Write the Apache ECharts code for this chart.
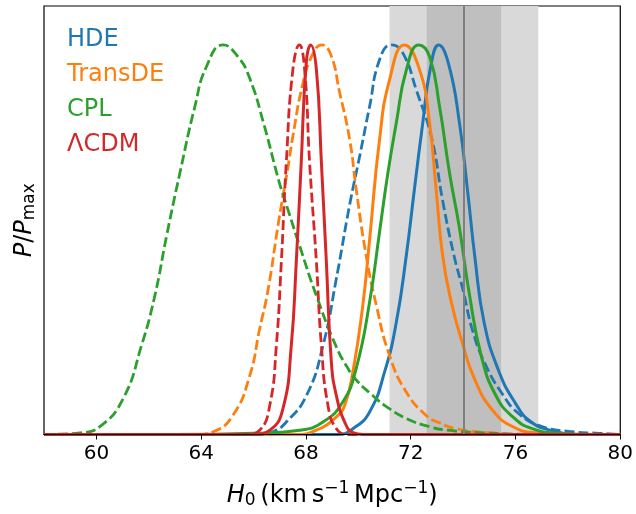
<!DOCTYPE html>
<html>
<head>
<meta charset="utf-8">
<script src="https://cdn.jsdelivr.net/npm/echarts@6/dist/echarts.min.js"></script>
<style>
  html, body { margin: 0; padding: 0; background: #fff; }
  #chart { width: 636px; height: 514px; }
</style>
</head>
<body>
<div id="chart"></div>
<script>
// H0 values (x) and normalised posterior P/Pmax (y)
const hdeSolid = [[58,0],[69.2,0],[69.79,0.015],[70.43,0.058],[71.0,0.16],[71.45,0.288],[71.83,0.459],[72.14,0.629],[72.46,0.80],[72.75,0.94],[73.07,1.0],[73.45,0.95],[73.86,0.80],[74.18,0.62],[74.45,0.455],[74.8,0.288],[75.35,0.165],[76.0,0.08],[76.6,0.032],[77.4,0.01],[78.5,0],[80,0]];
const hdeDashed = [[58,0],[66.2,0],[66.74,0.007],[67.25,0.032],[68.02,0.10],[68.65,0.228],[69.16,0.40],[69.67,0.59],[70.05,0.714],[70.43,0.842],[70.81,0.962],[71.26,1.0],[71.70,0.979],[72.21,0.885],[72.8,0.76],[73.22,0.6],[73.65,0.46],[74.0,0.37],[74.37,0.265],[74.85,0.18],[75.45,0.109],[76.15,0.052],[77.04,0.02],[78.05,0.008],[79.2,0.003],[80,0]];
const transSolid = [[58,0],[67.6,0],[68.40,0.011],[69.16,0.045],[69.48,0.075],[69.79,0.16],[70.17,0.331],[70.43,0.5],[70.81,0.757],[71.19,0.91],[71.76,1.0],[72.34,0.936],[72.72,0.80],[72.97,0.629],[73.22,0.459],[73.55,0.34],[73.95,0.24],[74.45,0.14],[75.13,0.062],[75.9,0.02],[76.8,0.004],[78,0],[80,0]];
const transDashed = [[58,0],[63.8,0],[64.45,0.007],[65.22,0.05],[65.85,0.15],[66.23,0.27],[66.55,0.37],[66.97,0.552],[67.3,0.68],[67.5,0.765],[67.88,0.90],[68.25,0.975],[68.6,1.0],[68.95,0.975],[69.28,0.88],[69.67,0.757],[69.92,0.629],[70.30,0.459],[70.69,0.331],[71.19,0.203],[71.83,0.109],[72.59,0.049],[73.1,0.03],[73.73,0.015],[74.9,0.005],[76.5,0],[80,0]];
const cplSolid = [[58,0],[63,0],[66,0.003],[67.76,0.011],[68.65,0.032],[69.41,0.084],[69.92,0.17],[70.43,0.34],[70.81,0.52],[71.13,0.672],[71.45,0.80],[71.83,0.935],[72.31,1.0],[72.72,0.97],[73.10,0.842],[73.48,0.672],[73.86,0.53],[74.24,0.36],[74.7,0.2],[75.25,0.1],[75.9,0.045],[76.64,0.015],[77.7,0.003],[79,0],[80,0]];
const cplDashed = [[58,0],[58.6,0.001],[59.37,0.004],[60.13,0.02],[61.02,0.092],[61.72,0.228],[62.23,0.356],[62.68,0.51],[63.19,0.672],[63.76,0.842],[64.2,0.944],[64.84,1.0],[65.4,0.97],[65.85,0.915],[66.4,0.795],[66.97,0.65],[67.3,0.58],[67.76,0.484],[68.40,0.356],[69.16,0.225],[69.6,0.17],[69.92,0.14],[70.55,0.10],[71.0,0.075],[71.83,0.041],[72.72,0.02],[73.4,0.011],[74.6,0.005],[76,0.001],[77,0],[80,0]];
const lcdmSolid = [[58,0],[66,0],[66.62,0.011],[67.12,0.066],[67.44,0.228],[67.63,0.442],[67.82,0.698],[68.01,0.953],[68.18,1.0],[68.40,0.936],[68.59,0.698],[68.78,0.442],[68.97,0.186],[69.16,0.10],[69.48,0.032],[69.79,0.005],[70.2,0],[80,0]];
const lcdmDashed = [[58,0],[65.7,0],[66.23,0.011],[66.62,0.075],[66.87,0.228],[67.06,0.442],[67.25,0.698],[67.5,0.936],[67.75,1.0],[67.95,0.936],[68.14,0.698],[68.40,0.442],[68.59,0.228],[68.84,0.075],[69.16,0.015],[69.6,0],[80,0]];

// local H0 measurement: central value and 1/2 sigma bands
const h0Local = 74.03;
const band1 = [72.61, 75.45];
const band2 = [71.19, 76.87];

const xTicks = [60, 64, 68, 72, 76, 80];
const models = ['HDE', 'TransDE', 'CPL', 'ΛCDM'];
const colors = ['#1f77b4', '#ff7f0e', '#2ca02c', '#d62728'];

const font = 'DejaVu Sans';
var myChart = echarts.init(document.getElementById('chart'));

function curve(name, data, color, dashed) {
    return {
        name: name,
        type: 'line',
        data: data,
        smooth: 0.5,
        symbol: 'none',
        lineStyle: { color: color, width: dashed ? 2.8 : 3, type: dashed ? [10, 4] : 'solid' },
        itemStyle: { color: color },
        z: 3
    };
}

var option = {
    animation: false,
    backgroundColor: '#fff',
    grid: { left: 44, right: 15, top: 6, bottom: 78, show: true, borderColor: '#000', borderWidth: 1.2 },
    legend: {
        data: models.map((m, i) => ({ name: m, icon: 'none', textStyle: { color: colors[i] } })),
        orient: 'vertical',
        left: 57,
        top: 23,
        itemWidth: 0,
        itemHeight: 24,
        itemGap: 11,
        selectedMode: false,
        textStyle: { fontFamily: font, fontSize: 24 }
    },
    xAxis: {
        type: 'value',
        min: 58,
        max: 80,
        z: 5,
        axisLine: { lineStyle: { color: '#000', width: 1.2 } },
        axisTick: { customValues: xTicks, length: 5, lineStyle: { color: '#000', width: 1 } },
        axisLabel: { customValues: xTicks, color: '#000', fontFamily: font, fontSize: 20, margin: 9 },
        splitLine: { show: false },
        name: '{i|H}{sub|0}{n|\u2009(km\u2009s}{sup|\u22121}{n|\u2009Mpc}{sup|\u22121}{n|)}',
        nameLocation: 'middle',
        nameGap: 46,
        nameTextStyle: {
            color: '#000', fontFamily: font, fontSize: 24,
            rich: {
                i: { fontStyle: 'italic', fontSize: 24, fontFamily: font, color: '#000' },
                n: { fontSize: 24, fontFamily: font, color: '#000' },
                sub: { fontSize: 17, fontFamily: font, color: '#000', padding: [10, 0, 0, 0] },
                sup: { fontSize: 17, fontFamily: font, color: '#000', padding: [0, 0, 13, 0] }
            }
        }
    },
    yAxis: {
        type: 'value',
        min: 0,
        max: 1.1,
        axisLine: { show: false },
        axisTick: { show: false },
        axisLabel: { show: false },
        splitLine: { show: false },
        name: '{i|P}{n|/}{i|P}{sub|max}',
        nameLocation: 'middle',
        nameRotate: 90,
        nameGap: 6,
        nameTextStyle: {
            color: '#000', fontFamily: font, fontSize: 24,
            rich: {
                i: { fontStyle: 'italic', fontSize: 24, fontFamily: font, color: '#000' },
                n: { fontSize: 24, fontFamily: font, color: '#000' },
                sub: { fontSize: 17, fontFamily: font, color: '#000', padding: [10, 0, 0, 0] }
            }
        }
    },
    series: [
        {
            name: 'bands',
            type: 'line',
            data: [],
            z: 1,
            silent: true,
            markArea: {
                silent: true,
                data: [
                    [{ xAxis: band2[0], itemStyle: { color: '#d9d9d9' } }, { xAxis: band2[1] }],
                    [{ xAxis: band1[0], itemStyle: { color: '#bfbfbf' } }, { xAxis: band1[1] }]
                ]
            },
            markLine: {
                silent: true,
                symbol: 'none',
                label: { show: false },
                lineStyle: { color: '#808080', width: 2, type: 'solid' },
                data: [{ xAxis: h0Local }]
            }
        },
        curve('HDE', hdeSolid, colors[0], false),
        curve('HDE', hdeDashed, colors[0], true),
        curve('TransDE', transSolid, colors[1], false),
        curve('TransDE', transDashed, colors[1], true),
        curve('CPL', cplSolid, colors[2], false),
        curve('CPL', cplDashed, colors[2], true),
        curve('ΛCDM', lcdmSolid, colors[3], false),
        curve('ΛCDM', lcdmDashed, colors[3], true)
    ]
};
myChart.setOption(option);
</script>
</body>
</html>
